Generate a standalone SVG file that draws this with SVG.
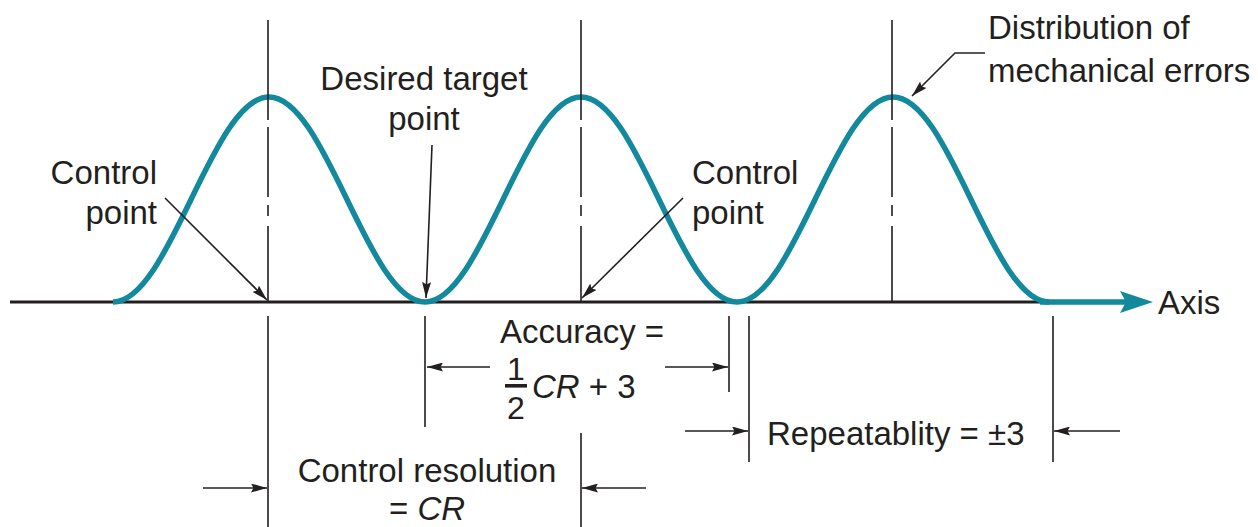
<svg xmlns="http://www.w3.org/2000/svg" width="1258" height="527" viewBox="0 0 1258 527">
<style>
text{font-family:"Liberation Sans",Arial,sans-serif;font-size:33px;fill:#231f20}
.ln{stroke:#231f20;stroke-width:1.6;fill:none}
.ld{stroke:#231f20;stroke-width:1.6;fill:none;marker-end:url(#ah)}
.teal{stroke:#12899d;fill:none}
</style>
<defs>
<marker id="ah" viewBox="0 0 16 9" refX="16" refY="4.5" markerWidth="16" markerHeight="9" orient="auto" markerUnits="userSpaceOnUse">
<path d="M0,0 L16,4.5 L0,9 L2.5,4.5 Z" fill="#231f20"/>
</marker>
</defs>
<rect width="1258" height="527" fill="#fff"/>
<g id="axis">
<path d="M10,302 H1045" stroke="#231f20" stroke-width="3.2" fill="none"/>
<path class="teal" d="M1040,302 H1126" stroke-width="5.5"/>
<path d="M1153,302 L1120,291 L1126,302 L1120,313 Z" fill="#12899d"/>
<text x="1158" y="314">Axis</text>
</g>
<g id="distribution-curve">
<path class="teal" stroke-width="5.5" stroke-linecap="butt" d="M113,302 C169.8,302 212.2,97 269,97 S368.2,302 425,302 S524.2,97 581,97 S680.2,302 737,302 S836.2,97 893,97 S992.2,302 1049,302"/>
</g>
<g id="centerlines">
<path class="ln" d="M268,20 V120 M268,127 V197 M268,205 V216 M268,226 V302 M268,316 V527"/>
<path class="ln" d="M581,20 V120 M581,127 V197 M581,205 V216 M581,226 V302 M581,433 V527"/>
<path class="ln" d="M892,20 V120 M892,127 V197 M892,205 V216 M892,226 V302"/>
<path class="ln" d="M425,316 V427 M729,316 V392 M749,316 V462 M1053,316 V462"/>
</g>
<g id="label-control-left">
<text x="157" y="184" text-anchor="end">Control</text>
<text x="157" y="224" text-anchor="end">point</text>
</g>
<g id="label-desired">
<text x="424" y="90" text-anchor="middle">Desired target</text>
<text x="424" y="130" text-anchor="middle">point</text>
</g>
<g id="label-control-right">
<text x="692" y="184">Control</text>
<text x="692" y="224">point</text>
</g>
<g id="label-distribution">
<text x="988" y="39">Distribution of</text>
<text x="988" y="82">mechanical errors</text>
</g>
<g id="label-accuracy">
<text x="500" y="343">Accuracy =</text>
<text x="516" y="380" text-anchor="middle" style="font-size:32px">1</text>
<rect x="505" y="384" width="22" height="3.6" fill="#231f20"/>
<text x="516" y="419" text-anchor="middle" style="font-size:32px">2</text>
<text x="532" y="398"><tspan font-style="italic">CR</tspan> + 3</text>
</g>
<g id="label-repeatability">
<text x="767" y="445">Repeatablity = ±3</text>
</g>
<g id="label-resolution">
<text x="427" y="482" text-anchor="middle">Control resolution</text>
<text x="427" y="520" text-anchor="middle">= <tspan font-style="italic">CR</tspan></text>
</g>
<g id="connectors">
<path class="ld" d="M165,198 L267,300"/>
<path class="ld" d="M432,145 L426,298"/>
<path class="ld" d="M683,198 L582,298"/>
<path class="ld" d="M985,53 H955 L912,96"/>
<path class="ld" d="M490,367 H427"/>
<path class="ld" d="M665,367 H728"/>
<path class="ld" d="M685,431 H748"/>
<path class="ld" d="M1120,431 H1054"/>
<path class="ld" d="M203,488 H267"/>
<path class="ld" d="M646,488 H582"/>
</g>
</svg>
